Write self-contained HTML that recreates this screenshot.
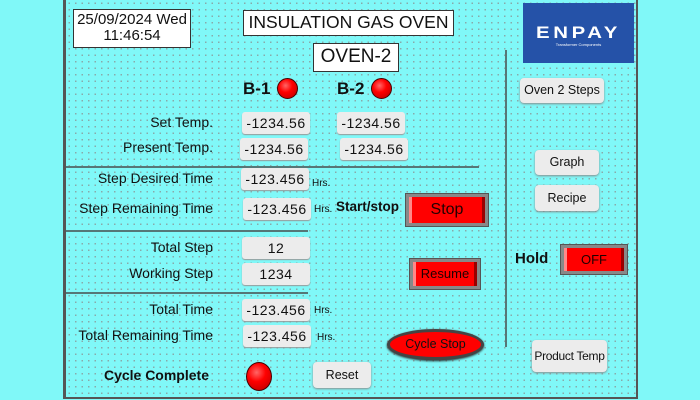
<!DOCTYPE html><html><head><style>
*{margin:0;padding:0;box-sizing:border-box}
body{width:700px;height:400px;background:#80f8f8;position:relative;overflow:hidden;font-family:"Liberation Sans",sans-serif;color:#111;white-space:nowrap}
#p{position:absolute;left:63px;top:0;width:575px;height:399px;border-left:3px solid #555;border-right:2px solid #555;border-bottom:2px solid #555;
background-color:#80f8f8;background-image:radial-gradient(circle,#8aa 0.7px,transparent 1px);background-size:6.5px 6.5px}
.a{position:absolute}
.box{position:absolute;background:#fff;border:1.5px solid #333;text-align:center;overflow:hidden}
.lbl{position:absolute;right:487px;font-size:14px;white-space:nowrap}
.v{position:absolute;width:68px;height:22px;background:#ececec;border-radius:3px;box-shadow:0 1px 1px #999;font-size:14px;text-align:center;line-height:22px;letter-spacing:0.5px}
.hrs{position:absolute;font-size:10px}
.btn{position:absolute;background:#ececec;border-radius:4px;box-shadow:0 1px 2px #888;font-size:12.5px;text-align:center}
.red{position:absolute;background:#f00;border:3px solid #888;outline:1px solid #555;text-align:center;color:#200;box-shadow:inset 3px 0 #f88,inset -3px 0 #900}
.led{position:absolute;border-radius:50%;background:radial-gradient(circle at 40% 35%,#f66,#f00 40%,#c00 80%);border:1.5px solid #400}
.hr{position:absolute;height:1.5px;background:#577}
</style></head><body>
<div id="p"></div>
<div class="box" style="left:73px;top:9px;width:118px;height:39px;font-size:15px;line-height:16px;padding-top:2px">25/09/2024 Wed<br>11:46:54</div>
<div class="box" style="left:243px;top:10px;width:211px;height:26px;font-size:17.5px;line-height:23px">INSULATION GAS OVEN</div>
<div class="box" style="left:313px;top:43px;width:86px;height:29px;font-size:19px;line-height:26px">OVEN-2</div>
<div class="a" style="left:523px;top:3px;width:111px;height:60px;background:#2552a8;color:#fff;text-align:center">
<div style="font-weight:bold;font-size:17px;letter-spacing:3px;margin-top:20px;transform:scaleX(1.2)">ENPAY</div>
<div style="font-size:4px;margin-top:-1px">Transformer Components</div></div>
<div class="a" style="left:243px;top:79px;font-size:17px;font-weight:bold">B-1</div>
<div class="led" style="left:277px;top:78px;width:21px;height:21px"></div>
<div class="a" style="left:337px;top:79px;font-size:17px;font-weight:bold">B-2</div>
<div class="led" style="left:371px;top:78px;width:21px;height:21px"></div>
<div class="lbl" style="top:114px">Set Temp.</div>
<div class="lbl" style="top:139px">Present Temp.</div>
<div class="lbl" style="top:170px">Step Desired Time</div>
<div class="lbl" style="top:200px">Step Remaining Time</div>
<div class="lbl" style="top:239px">Total Step</div>
<div class="lbl" style="top:265px">Working Step</div>
<div class="lbl" style="top:301px">Total Time</div>
<div class="lbl" style="top:327px">Total Remaining Time</div>
<div class="lbl" style="top:367px;font-weight:bold;font-size:14px;right:491px">Cycle Complete</div>
<div class="v" style="left:242px;top:112px">-1234.56</div>
<div class="v" style="left:337px;top:112px">-1234.56</div>
<div class="v" style="left:240px;top:138px">-1234.56</div>
<div class="v" style="left:340px;top:138px">-1234.56</div>
<div class="v" style="left:241px;top:168px">-123.456</div><div class="hrs" style="left:312px;top:178px">Hrs.</div>
<div class="v" style="left:243px;top:198px">-123.456</div><div class="hrs" style="left:314px;top:204px">Hrs.</div>
<div class="v" style="left:242px;top:237px">12</div>
<div class="v" style="left:242px;top:263px">1234</div>
<div class="v" style="left:242px;top:299px">-123.456</div><div class="hrs" style="left:314px;top:305px">Hrs.</div>
<div class="v" style="left:243px;top:325px">-123.456</div><div class="hrs" style="left:317px;top:332px">Hrs.</div>
<div class="hr" style="left:66px;top:166px;width:413px"></div>
<div class="hr" style="left:66px;top:230px;width:242px"></div>
<div class="hr" style="left:66px;top:292px;width:242px"></div>
<div class="a" style="left:505px;top:50px;width:1.5px;height:297px;background:#577"></div>
<div class="a" style="left:336px;top:199px;font-size:13.5px;font-weight:bold">Start/stop</div>
<div class="red" style="left:406px;top:194px;width:82px;height:32px;font-size:16px;line-height:26px">Stop</div>
<div class="red" style="left:410px;top:259px;width:70px;height:30px;font-size:13px;line-height:24px">Resume</div>
<div class="a" style="left:387px;top:329px;width:97px;height:31px;border-radius:50%;background:#f00;border:3px solid #444;box-shadow:0 1px 2px #222;font-size:12.5px;text-align:center;line-height:25px">Cycle Stop</div>
<div class="led" style="left:246px;top:362px;width:26px;height:29px"></div>
<div class="btn" style="left:313px;top:362px;width:58px;height:26px;line-height:26px">Reset</div>
<div class="btn" style="left:520px;top:78px;width:84px;height:25px;line-height:25px">Oven 2 Steps</div>
<div class="btn" style="left:535px;top:150px;width:64px;height:25px;line-height:25px">Graph</div>
<div class="btn" style="left:535px;top:185px;width:64px;height:26px;line-height:26px">Recipe</div>
<div class="a" style="left:515px;top:250px;font-size:15px;font-weight:bold">Hold</div>
<div class="red" style="left:561px;top:245px;width:66px;height:29px;font-size:13px;line-height:23px">OFF</div>
<div class="btn" style="left:532px;top:340px;width:75px;height:32px;line-height:32px;font-size:12px;letter-spacing:-0.3px">Product Temp</div>
</body></html>
